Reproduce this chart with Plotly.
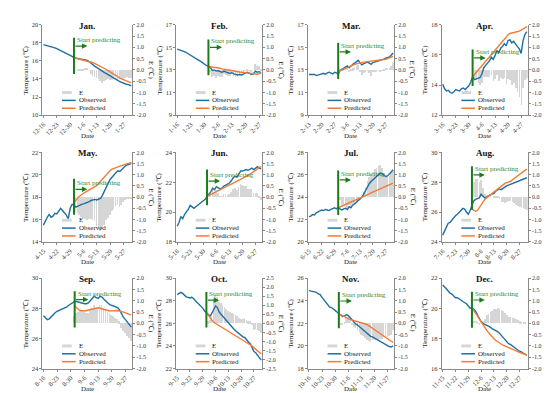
import plotly.graph_objects as go

W, H = 550, 393
FONT = "Liberation Serif, Times New Roman, serif"

TITLES = ["Jan.", "Feb.", "Mar.", "Apr.", "May.", "Jun.", "Jul.", "Aug.", "Sep.", "Oct.", "Nov.", "Dec."]

TICKS_JAN = ["12-16", "12-23", "12-30", "1-6", "1-13", "1-20", "1-27"]
TICKS_FEB = ["1-16", "1-23", "1-30", "2-6", "2-13", "2-20", "2-27"]
TICKS_MAR = ["2-13", "2-20", "2-27", "3-6", "3-13", "3-20", "3-27"]
TICKS_APR = ["3-16", "3-23", "3-30", "4-6", "4-13", "4-20", "4-27"]
TICKS_MAY = ["4-15", "4-22", "4-29", "5-6", "5-13", "5-20", "5-27"]
TICKS_JUN = ["5-16", "5-23", "5-30", "6-6", "6-13", "6-20", "6-27"]
TICKS_JUL = ["6-15", "6-22", "6-29", "7-6", "7-13", "7-20", "7-27"]
TICKS_AUG = ["7-16", "7-23", "7-30", "8-6", "8-13", "8-20", "8-27"]
TICKS_SEP = ["8-16", "8-23", "8-30", "9-6", "9-13", "9-20", "9-27"]
TICKS_OCT = ["9-15", "9-22", "9-29", "10-6", "10-13", "10-20", "10-27"]
TICKS_NOV = ["10-16", "10-23", "10-30", "11-6", "11-13", "11-20", "11-27"]
TICKS_DEC = ["11-15", "11-22", "11-29", "12-6", "12-13", "12-20", "12-27"]

OBS_JAN = [17.8, 17.75, 17.7, 17.65, 17.6, 17.5, 17.45, 17.35, 17.25, 17.1, 17.0, 16.9, 16.85, 16.75, 16.6, 16.5,
           16.35, 16.3, 16.25, 16.2, 16.15, 16.1, 16.1, 16.05, 15.9, 15.7, 15.55, 15.4, 15.25, 15.1, 14.9, 14.75,
           14.7, 14.6, 14.5, 14.35, 14.2, 14.1, 14.0, 13.85, 13.7, 13.6, 13.5, 13.45, 13.4, 13.3, 13.25]
PRED_JAN = [16.35, 16.3, 16.2, 16.15, 16.1, 16.05, 16.0, 15.95, 15.9, 15.85, 15.8, 15.7, 15.6, 15.5, 15.4, 15.3,
            15.2, 15.05, 14.9, 14.8, 14.65, 14.5, 14.4, 14.25, 14.1, 14.0, 13.9, 13.8, 13.7, 13.65, 13.6]

OBS_FEB = [14.85, 14.8, 14.75, 14.7, 14.6, 14.5, 14.4, 14.3, 14.2, 14.1, 14.0, 13.9, 13.75, 13.65, 13.5, 13.4,
           13.3, 13.2, 12.95, 13.0, 12.9, 12.95, 12.85, 12.8, 12.9, 12.8, 12.75, 12.7, 12.75, 12.65, 12.6, 12.55,
           12.6, 12.55, 12.65, 12.75, 12.8, 12.7, 12.6, 12.65, 12.9, 12.8, 12.85, 12.75]
PRED_FEB = [13.3, 13.28, 13.27, 13.26, 13.25, 13.2, 13.15, 13.1, 13.05, 13.02, 13.0, 12.97, 12.93, 12.9, 12.88,
            12.85, 12.82, 12.8, 12.78, 12.76, 12.74, 12.72, 12.68, 12.65, 12.63, 12.62, 12.68, 12.74]

OBS_MAR = [12.6, 12.6, 12.55, 12.6, 12.5, 12.55, 12.6, 12.65, 12.7, 12.6, 12.75, 12.8, 12.7, 12.65, 12.8, 12.75,
           12.6, 12.95, 13.05, 13.15, 13.3, 13.35, 13.2, 13.4, 13.5, 13.6, 13.75, 13.85, 13.6, 13.45, 13.55, 13.65,
           13.7, 13.6, 13.5, 13.65, 13.7, 13.75, 13.8, 13.8, 13.85, 13.95, 14.05, 14.1, 14.15, 14.3, 14.5]
PRED_MAR = [12.85, 12.93, 13.0, 13.07, 13.14, 13.21, 13.28, 13.35, 13.42, 13.49, 13.55, 13.6, 13.64, 13.67, 13.69,
            13.71, 13.72, 13.73, 13.74, 13.75, 13.77, 13.79, 13.81, 13.84, 13.87, 13.91, 13.95, 14.0, 14.05, 14.12, 14.2]

OBS_APR = [14.05, 13.75, 13.6, 13.65, 13.5, 13.45, 13.55, 13.7, 13.65, 13.6, 13.75, 13.8, 13.7, 13.85, 13.95, 14.2,
           14.55, 14.35, 14.4, 14.45, 14.5, 14.75, 15.15, 15.3, 15.45, 15.6, 15.85, 15.7, 15.95, 16.3, 16.15, 16.45,
           16.55, 16.75, 16.6, 16.95, 17.0, 16.8, 16.9, 16.7, 16.55, 16.4, 16.1, 16.95, 17.35, 17.55]
PRED_APR = [14.55, 14.7, 14.85, 15.0, 15.15, 15.3, 15.45, 15.6, 15.75, 15.9, 16.05, 16.2, 16.35, 16.5, 16.65, 16.8,
            16.95, 17.1, 17.22, 17.34, 17.42, 17.45, 17.46, 17.48, 17.52, 17.58, 17.65, 17.72, 17.8, 17.88]

OBS_MAY = [15.5, 15.9, 16.2, 16.45, 16.2, 16.3, 16.55, 16.5, 16.7, 17.0, 16.8, 16.6, 16.4, 16.05, 17.0, 17.35,
           17.3, 17.1, 17.2, 17.3, 17.35, 17.4, 17.45, 17.5, 17.6, 17.7, 17.75, 17.8, 17.75, 17.8, 17.9, 18.2,
           18.6, 19.0, 19.3, 19.6, 19.85, 20.0, 20.2, 20.35, 20.3, 20.5, 20.65, 20.8, 20.9, 20.95, 21.0]
PRED_MAY = [17.5, 17.75, 17.95, 18.1, 18.25, 18.35, 18.45, 18.55, 18.6, 18.7, 18.8, 18.9, 19.05, 19.25, 19.45,
            19.65, 19.85, 20.05, 20.25, 20.4, 20.5, 20.55, 20.62, 20.7, 20.78, 20.85, 20.9, 20.95, 21.0, 21.05, 21.1]

OBS_JUN = [19.05, 19.3, 19.7, 19.55, 19.85, 20.0, 20.2, 20.45, 20.35, 20.25, 20.35, 20.45, 20.55, 20.6, 20.7, 20.85,
           21.05, 21.2, 21.35, 21.6, 21.5, 21.7, 21.6, 21.55, 21.6, 21.75, 21.8, 21.85, 21.95, 22.1, 22.3, 22.4,
           22.35, 22.55, 22.75, 22.75, 22.8, 22.85, 22.8, 22.9, 22.95, 22.85, 22.95, 23.05, 22.95, 22.9]
PRED_JUN = [21.05, 21.1, 21.17, 21.24, 21.31, 21.38, 21.45, 21.52, 21.58, 21.64, 21.7, 21.76, 21.82, 21.88, 21.94,
            22.0, 22.06, 22.12, 22.18, 22.24, 22.3, 22.38, 22.46, 22.54, 22.62, 22.7, 22.8, 22.9, 23.0, 23.05]

OBS_JUL = [22.25, 22.3, 22.45, 22.4, 22.6, 22.7, 22.8, 22.85, 22.8, 22.9, 22.85, 22.8, 22.9, 22.95, 23.05, 22.95,
           23.1, 22.95, 22.85, 22.95, 23.0, 22.9, 23.15, 23.05, 23.3, 23.4, 23.55, 23.65, 23.8, 24.0, 24.3, 24.6,
           24.95, 25.2, 25.4, 25.55, 25.75, 25.9, 26.05, 26.15, 26.1, 25.95, 25.85, 25.9, 26.05, 26.25, 26.45]
PRED_JUL = [23.05, 23.12, 23.2, 23.27, 23.34, 23.42, 23.5, 23.57, 23.64, 23.72, 23.79, 23.86, 23.94, 24.01, 24.08,
            24.15, 24.23, 24.3, 24.38, 24.45, 24.52, 24.6, 24.67, 24.74, 24.82, 24.89, 24.96, 25.04, 25.11, 25.18, 25.26]

OBS_AUG = [24.45, 24.75, 25.0, 25.25, 25.3, 25.45, 25.65, 25.75, 25.85, 25.95, 26.1, 26.25, 26.2, 26.0, 25.85, 26.1,
           26.5, 26.75, 26.85, 26.9, 26.95, 27.2, 27.05, 26.95, 27.0, 27.1, 27.15, 27.2, 27.25, 27.4, 27.5, 27.55,
           27.5, 27.6, 27.65, 27.75, 27.8, 27.85, 27.9, 27.95, 28.0, 28.05, 28.1, 28.15, 28.2, 28.25, 28.3]
PRED_AUG = [26.2, 26.1, 26.05, 26.1, 26.3, 26.45, 26.65, 26.85, 26.95, 27.05, 27.1, 27.2, 27.3, 27.45, 27.55, 27.65,
            27.75, 27.85, 27.92, 27.98, 28.0, 28.05, 28.15, 28.25, 28.35, 28.45, 28.55, 28.65, 28.72, 28.8, 28.88]

OBS_SEP = [27.5, 27.35, 27.25, 27.3, 27.45, 27.55, 27.7, 27.8, 27.85, 27.9, 27.95, 28.05, 28.1, 28.2, 28.3, 28.4,
           28.45, 28.45, 28.4, 28.38, 28.35, 28.3, 28.3, 28.35, 28.5, 28.65, 28.8, 28.7, 28.65, 28.8, 28.75, 28.6,
           28.45, 28.35, 28.25, 28.2, 28.15, 28.1, 28.05, 27.9, 27.6, 27.4, 27.25, 27.1, 26.95, 26.75]
PRED_SEP = [28.15, 28.0, 27.92, 27.85, 27.82, 27.82, 27.85, 27.88, 27.92, 27.96, 27.99, 28.02, 28.03, 28.0, 27.96,
            27.92, 27.88, 27.84, 27.82, 27.83, 27.85, 27.87, 27.85, 27.82, 27.8, 27.75, 27.7, 27.65, 27.6, 27.55]

OBS_OCT = [28.55, 28.65, 28.75, 28.65, 28.5, 28.35, 28.3, 28.25, 28.3, 28.2, 28.0, 27.85, 27.65, 27.5, 27.35, 27.1,
           26.95, 26.8, 26.65, 26.9, 27.3, 27.55, 27.4, 27.0, 26.8, 26.6, 26.4, 26.2, 26.0, 25.8, 25.65, 25.5,
           25.35, 25.2, 25.05, 24.9, 24.8, 24.75, 24.5, 24.35, 24.2, 23.9, 23.5, 23.4, 23.2, 22.95, 22.75]
PRED_OCT = [26.95, 26.7, 26.5, 26.3, 26.1, 26.0, 25.95, 25.85, 25.7, 25.6, 25.5, 25.4, 25.3, 25.2, 25.1, 25.0,
            24.9, 24.82, 24.75, 24.65, 24.55, 24.45, 24.35, 24.25, 24.1, 24.0, 23.85, 23.7, 23.55, 23.4, 23.28]

OBS_NOV = [24.9, 24.85, 24.85, 24.8, 24.75, 24.6, 24.55, 24.3, 24.1, 23.9, 23.6, 23.45, 23.4, 23.3, 23.15, 23.0,
           22.85, 22.7, 22.6, 22.65, 22.75, 22.7, 22.5, 22.25, 22.05, 21.95, 21.85, 21.7, 21.55, 21.45, 21.3, 21.15,
           21.0, 20.85, 20.8, 20.7, 20.6, 20.5, 20.4, 20.3, 20.25, 20.15, 20.05, 19.95, 19.9, 20.0]
PRED_NOV = [22.85, 22.75, 22.65, 22.58, 22.5, 22.42, 22.35, 22.3, 22.24, 22.18, 22.14, 22.1, 22.06, 22.02, 21.97,
            21.9, 21.8, 21.68, 21.55, 21.45, 21.35, 21.25, 21.12, 21.0, 20.88, 20.76, 20.64, 20.52, 20.42, 20.32]

OBS_DEC = [21.55, 21.45, 21.3, 21.15, 21.0, 20.95, 20.85, 20.7, 20.7, 20.65, 20.55, 20.45, 20.4, 20.3, 20.15, 20.0,
           20.0, 19.95, 19.8, 19.55, 19.25, 19.1, 19.0, 18.95, 18.9, 18.8, 18.75, 18.65, 18.6, 18.5, 18.45, 18.35,
           18.2, 18.1, 17.95, 17.8, 17.65, 17.6, 17.5, 17.45, 17.35, 17.25, 17.15, 17.1, 17.0, 16.95, 16.9]
PRED_DEC = [20.0, 19.85, 19.7, 19.5, 19.3, 19.1, 18.9, 18.75, 18.55, 18.4, 18.25, 18.1, 17.98, 17.88, 17.78, 17.7,
            17.63, 17.56, 17.5, 17.44, 17.38, 17.32, 17.27, 17.22, 17.17, 17.12, 17.07, 17.03, 16.98, 16.94, 16.9]

START_INDEX = 16

OBS = [OBS_JAN, OBS_FEB, OBS_MAR, OBS_APR, OBS_MAY, OBS_JUN, OBS_JUL, OBS_AUG, OBS_SEP, OBS_OCT, OBS_NOV, OBS_DEC]
PRED = [PRED_JAN, PRED_FEB, PRED_MAR, PRED_APR, PRED_MAY, PRED_JUN, PRED_JUL, PRED_AUG, PRED_SEP, PRED_OCT, PRED_NOV, PRED_DEC]
TICKS = [TICKS_JAN, TICKS_FEB, TICKS_MAR, TICKS_APR, TICKS_MAY, TICKS_JUN, TICKS_JUL, TICKS_AUG, TICKS_SEP,
         TICKS_OCT, TICKS_NOV, TICKS_DEC]

# axis ranges (layout)
T_RANGE = [(10, 20), (9, 17), (9, 17), (12, 18), (14, 22), (18, 24), (20, 28), (24, 30), (24, 30), (22, 30), (18, 26), (16, 22)]
E_RANGE = [(-2, 2)] * 9 + [(-2.5, 2.5)] + [(-2, 2)] * 2
# start-predicting marker (top, bottom, arrow level) in temperature units
MARK = [(18.55, 14.55, 17.64), (15.7, 12.54, 15.0), (15.4, 12.2, 14.6), (16.35, 13.93, 15.8),
        (19.65, 16.43, 18.7), (22.85, 20.45, 22.08), (26.38, 22.4, 25.54), (29.07, 26.16, 28.49),
        (29.13, 26.72, 28.58), (28.78, 25.64, 28.05), (24.77, 21.56, 23.98), (21.09, 18.71, 20.55)]

COL_L = [23, 160, 295, 432]
COL_R = [115, 248, 383, 520]
ROW_T = [13, 143, 271]
ROW_B = [105, 234, 363]

C_OBS = "#1F6FA3"
C_PRED = "#F47A35"
C_E = "#D6D6D6"
C_GREEN = "#1C7C1C"
C_GTXT = "#2E8B2E"
C_AX = "#8A8A8A"


def px(xp):
    return xp / W


def py(yp):
    return 1 - yp / H


fig = go.Figure()
layout = dict(width=W, height=H, margin=dict(l=0, r=0, t=0, b=0), paper_bgcolor="white",
              plot_bgcolor="white", showlegend=False, font=dict(family=FONT, size=7, color="#222"))
annotations = []
shapes = []

for i in range(12):
    r, c = divmod(i, 4)
    L, R, T, B = COL_L[c], COL_R[c], ROW_T[r], ROW_B[r]
    n = len(OBS[i])
    xs = list(range(n))
    xname = "x" if i == 0 else f"x{i+1}"
    ye_name = "y" if i == 0 else f"y{i+1}"
    yt_name = f"y{i+13}"
    xa = "xaxis" if i == 0 else f"xaxis{i+1}"
    yea = "yaxis" if i == 0 else f"yaxis{i+1}"
    yta = f"yaxis{i+13}"

    pred_x = list(range(START_INDEX, START_INDEX + len(PRED[i])))
    e_vals = [round(OBS[i][k] - PRED[i][k - START_INDEX], 3) for k in pred_x]

    fig.add_trace(go.Bar(x=pred_x, y=e_vals, xaxis=xname, yaxis=ye_name, marker=dict(color=C_E, line=dict(width=0)),
                         width=0.35, name="E"))
    fig.add_trace(go.Scatter(x=xs, y=OBS[i], xaxis=xname, yaxis=yt_name, mode="lines",
                             line=dict(color=C_OBS, width=1.4), name="Observed"))
    fig.add_trace(go.Scatter(x=pred_x, y=PRED[i], xaxis=xname, yaxis=yt_name, mode="lines",
                             line=dict(color=C_PRED, width=1.4), name="Predicted"))

    layout[xa] = dict(domain=[px(L), px(R)], anchor=ye_name, range=[-0.5, n - 0.5],
                      tickmode="array", tickvals=[0, 7, 14, 21, 28, 35, 42], ticktext=TICKS[i],
                      tickangle=-45, tickfont=dict(size=6.5, family=FONT, color="#333"),
                      showline=True, linecolor=C_AX, linewidth=1, ticks="outside", ticklen=2, tickcolor=C_AX,
                      showgrid=False, zeroline=False, fixedrange=True)
    e0, e1 = E_RANGE[i]
    ev = []
    v = e0
    while v <= e1 + 1e-9:
        ev.append(round(v, 2))
        v += 0.5
    layout[yea] = dict(domain=[py(B), py(T)], anchor=xname, side="right", range=[e0, e1],
                       tickmode="array", tickvals=ev, ticktext=[f"{t:.1f}" for t in ev],
                       tickfont=dict(size=6, family=FONT, color="#333"),
                       showline=True, linecolor=C_AX, linewidth=1, ticks="outside", ticklen=2, tickcolor=C_AX,
                       showgrid=False, zeroline=False, fixedrange=True)
    t0, t1 = T_RANGE[i]
    layout[yta] = dict(overlaying=ye_name, anchor=xname, side="left", range=[t0, t1],
                       tickmode="linear", tick0=t0, dtick=2,
                       tickfont=dict(size=6.5, family=FONT, color="#333"),
                       showline=True, linecolor=C_AX, linewidth=1, ticks="outside", ticklen=2, tickcolor=C_AX,
                       showgrid=False, zeroline=False, fixedrange=True)

    # title
    annotations.append(dict(text="<b>" + TITLES[i] + "</b>", x=px((L + R) / 2), y=py(T + 1), xref="paper",
                            yref="paper", showarrow=False, xanchor="center", yanchor="middle",
                            font=dict(size=9, family=FONT, color="#111")))
    # axis titles
    annotations.append(dict(text="Date", x=px((L + R) / 2), y=py(B + 21), xref="paper", yref="paper",
                            showarrow=False, xanchor="center", yanchor="middle",
                            font=dict(size=7, family=FONT, color="#222")))
    annotations.append(dict(text="Temperature (℃)", x=px(L - 17), y=py((T + B) / 2), xref="paper", yref="paper",
                            showarrow=False, xanchor="center", yanchor="middle", textangle=-90,
                            font=dict(size=7, family=FONT, color="#222")))
    annotations.append(dict(text="E (℃)", x=px(R + 19), y=py((T + B) / 2), xref="paper", yref="paper",
                            showarrow=False, xanchor="center", yanchor="middle", textangle=90,
                            font=dict(size=7, family=FONT, color="#222")))

    # start predicting marker
    mt, mb, ma = MARK[i]
    shapes.append(dict(type="line", xref=xname, yref=yt_name, x0=START_INDEX, x1=START_INDEX, y0=mb, y1=mt,
                       line=dict(color=C_GREEN, width=2)))
    annotations.append(dict(text="", x=START_INDEX + 7, y=ma, xref=xname, yref=yt_name, ax=START_INDEX, ay=ma,
                            axref=xname, ayref=yt_name, showarrow=True, arrowhead=2, arrowsize=0.9,
                            arrowwidth=1.2, arrowcolor=C_GREEN))
    annotations.append(dict(text="Start predicting", x=START_INDEX, y=ma, xref=xname, yref=yt_name,
                            showarrow=False, xanchor="left", yanchor="bottom", xshift=1, yshift=0,
                            font=dict(size=7, family=FONT, color=C_GTXT)))

    # legend (manual)
    lx, ly = L + 20, T + 69
    shapes.append(dict(type="rect", xref="paper", yref="paper", x0=px(lx), x1=px(lx + 10), y0=py(ly + 1.5),
                       y1=py(ly - 1.5), fillcolor=C_E, line=dict(width=0)))
    shapes.append(dict(type="line", xref="paper", yref="paper", x0=px(lx), x1=px(lx + 14), y0=py(ly + 8),
                       y1=py(ly + 8), line=dict(color=C_OBS, width=1.5)))
    shapes.append(dict(type="line", xref="paper", yref="paper", x0=px(lx), x1=px(lx + 14), y0=py(ly + 16),
                       y1=py(ly + 16), line=dict(color=C_PRED, width=1.5)))
    for k, name in enumerate(["E", "Observed", "Predicted"]):
        annotations.append(dict(text=name, x=px(lx + 15), y=py(ly + 8 * k), xref="paper", yref="paper",
                                showarrow=False, xanchor="left", yanchor="middle",
                                font=dict(size=7, family=FONT, color="#222")))

layout["annotations"] = annotations
layout["shapes"] = shapes
layout["bargap"] = 0
fig.update_layout(**layout)
fig.write_html("out.html")
